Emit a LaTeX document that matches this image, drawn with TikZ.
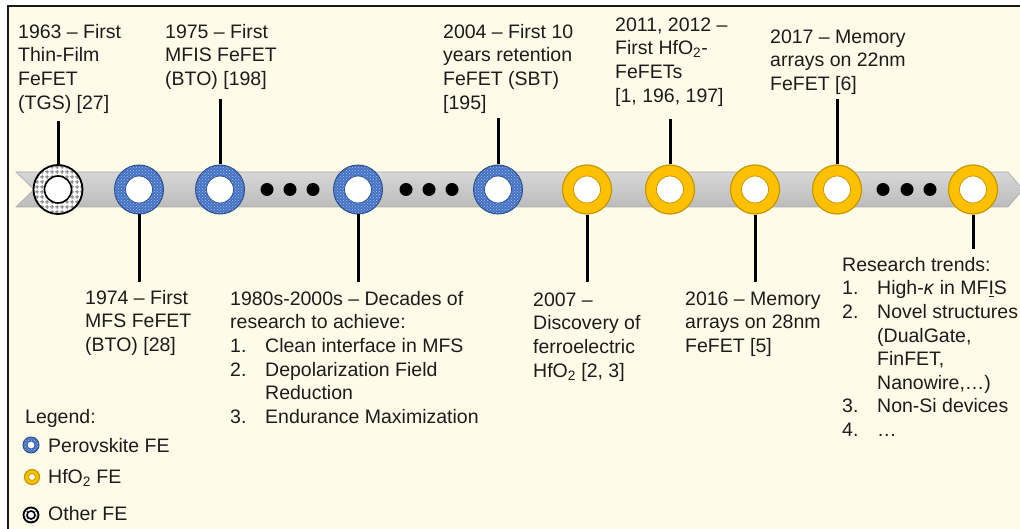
\documentclass[tikz,border=0pt]{standalone}
\usepackage{fontspec}
\setmainfont{Liberation Sans}
\usetikzlibrary{patterns}
\definecolor{cream}{RGB}{255,251,233}
\definecolor{txt}{RGB}{28,28,28}
\definecolor{pblue}{RGB}{68,114,196}
\definecolor{pblueb}{RGB}{47,82,143}
\definecolor{hfy}{RGB}{255,192,0}
\definecolor{hfyb}{RGB}{196,150,0}
\definecolor{bandtop}{RGB}{214,214,214}
\definecolor{bandbot}{RGB}{188,188,188}
\definecolor{bandedge}{RGB}{170,170,170}
\pgfdeclarepatternformonly{mygrid}{\pgfpointorigin}{\pgfpoint{5pt}{5pt}}{\pgfpoint{5pt}{5pt}}{%
  \pgfsetlinewidth{1pt}%
  \pgfpathmoveto{\pgfpoint{0pt}{2.5pt}}\pgfpathlineto{\pgfpoint{5pt}{2.5pt}}%
  \pgfpathmoveto{\pgfpoint{2.5pt}{0pt}}\pgfpathlineto{\pgfpoint{2.5pt}{5pt}}%
  \pgfusepath{stroke}}
\newcommand{\itm}[1]{\makebox[35pt][l]{#1}}
\tikzset{
  lbl/.style={font=\fontsize{19.5}{23.6}\selectfont, align=left, anchor=north west, inner sep=0pt, text=txt},
  lgd/.style={font=\fontsize{19.5}{23.6}\selectfont, anchor=base west, inner sep=0pt, text=txt},
  vline/.style={line width=3pt, black},
  dotnode/.style={circle, fill=black, minimum size=13pt, inner sep=0pt},
  pero/.style 2 args={circle, inner sep=0pt, minimum size=#1, preaction={fill=pblue},
    pattern=crosshatch dots, pattern color=white!55!pblue, draw=pblueb, line width=1pt,
    path picture={\fill[white, draw=pblueb, line width=0.8pt] (path picture bounding box.center) circle (#2);}},
  hfo/.style 2 args={circle, inner sep=0pt, minimum size=#1, fill=hfy, draw=hfyb, line width=1.2pt,
    path picture={\fill[white, draw=hfyb, line width=0.8pt] (path picture bounding box.center) circle (#2);}},
  oth/.style 2 args={circle, inner sep=0pt, minimum size=#1, preaction={fill=white},
    pattern=mygrid, pattern color=black!50, draw=black, line width=1.8pt,
    path picture={\fill[white, draw=black, line width=1.6pt] (path picture bounding box.center) circle (#2);}},
}
\begin{document}
\begin{tikzpicture}[x=1pt, y=-1pt]
\useasboundingbox (0,0) rectangle (1020,529);
% frame
\fill[white] (0,0) rectangle (1020,529);
\draw[fill=cream, draw=black!90, line width=2pt] (8,6) rectangle (1040,545);
% band
\shade[top color=bandtop, bottom color=bandbot, draw=bandedge, line width=0.6pt]
  (16,172) -- (1008,172) -- (1023,189.5) -- (1008,207) -- (16,207) -- (34,189.5) -- cycle;
% rings
\node[oth={49pt}{13.5pt}] (c1) at (58,189.5) {};
\node[pero={49pt}{13.5pt}] (c2) at (139,189.5) {};
\node[pero={49pt}{13.5pt}] (c3) at (220,189.5) {};
\node[pero={49pt}{13.5pt}] (c4) at (358,189.5) {};
\node[pero={49pt}{13.5pt}] (c5) at (498,189.5) {};
\node[hfo={49pt}{13.5pt}] (c6) at (587,189.5) {};
\node[hfo={49pt}{13.5pt}] (c7) at (670,189.5) {};
\node[hfo={49pt}{13.5pt}] (c8) at (755,189.5) {};
\node[hfo={49pt}{13.5pt}] (c9) at (837,189.5) {};
\node[hfo={49pt}{13.5pt}] (c10) at (973,189.5) {};
% dots
\node[dotnode] (d1) at (267,189.5) {};
\node[dotnode] (d2) at (290,189.5) {};
\node[dotnode] (d3) at (313,189.5) {};
\node[dotnode] (d4) at (406,189.5) {};
\node[dotnode] (d5) at (429,189.5) {};
\node[dotnode] (d6) at (452,189.5) {};
\node[dotnode] (d7) at (883,189.5) {};
\node[dotnode] (d8) at (907,189.5) {};
\node[dotnode] (d9) at (930,189.5) {};
% line ends
\coordinate (e1) at (58,121);
\coordinate (e2) at (139,282);
\coordinate (e3) at (220,99);
\coordinate (e4) at (358,282);
\coordinate (e5) at (498,118);
\coordinate (e6) at (587,282);
\coordinate (e7) at (670,119);
\coordinate (e8) at (755,282);
\coordinate (e9) at (837,99);
\coordinate (e10) at (973,249);
\draw[vline] (c1.north) -- (e1);
\draw[vline] (c2.south) -- (e2);
\draw[vline] (c3.north) -- (e3);
\draw[vline] (c4.south) -- (e4);
\draw[vline] (c5.north) -- (e5);
\draw[vline] (c6.south) -- (e6);
\draw[vline] (c7.north) -- (e7);
\draw[vline] (c8.south) -- (e8);
\draw[vline] (c9.north) -- (e9);
\draw[vline] (c10.south) -- (e10);
% texts
\node[lbl] (t1) at (18,21.5) {\strut 1963 – First\\Thin-Film\\FeFET\\(TGS) [27]};
\node[lbl] (t3) at (165,21.5) {\strut 1975 – First\\MFIS FeFET\\(BTO) [198]};
\node[lbl] (t5) at (443,21.5) {\strut 2004 – First 10\\years retention\\FeFET (SBT)\\{}[195]};
\node[lbl] (t7) at (615,14.5) {\strut 2011, 2012 –\\First HfO\textsubscript{2}-\\FeFETs\\{}[1, 196, 197]};
\node[lbl] (t9) at (770,26.5) {\strut 2017 – Memory\\arrays on 22nm\\FeFET [6]};
\node[lbl] (t2) at (85,287.5) {\strut 1974 – First\\MFS FeFET\\(BTO) [28]};
\node[lbl] (t4) at (230,288.5) {\strut 1980s-2000s – Decades of\\research to achieve:\\\itm{1.}Clean interface in MFS\\\itm{2.}Depolarization Field\\\itm{}Reduction\\\itm{3.}Endurance Maximization};
\node[lbl] (t6) at (533,289.5) {\strut 2007 –\\Discovery of\\ferroelectric\\HfO\textsubscript{2} [2, 3]};
\node[lbl] (t8) at (685,288.5) {\strut 2016 – Memory\\arrays on 28nm\\FeFET [5]};
\node[lbl] (t10) at (842,254.5) {\strut Research trends:\\\itm{1.}High-\textit{κ} in MF\underline{I}S\\\itm{2.}Novel structures\\\itm{}(DualGate,\\\itm{}FinFET,\\\itm{}Nanowire,…)\\\itm{3.}Non-Si devices\\\itm{4.}…};
% legend
\node[lgd] (lg) at (25,423) {Legend:};
\node[pero={16pt}{4pt}] (lp) at (31,445) {};
\node[lgd] (lpt) at (48,452) {Perovskite FE};
\node[hfo={15pt}{3.5pt}] (lh) at (32,477) {};
\node[lgd] (lht) at (48,483) {HfO\textsubscript{2} FE};
\node[oth={15pt}{4pt}] (lo) at (31,515) {};
\node[lgd] (lot) at (48,520) {Other FE};
\end{tikzpicture}
\end{document}
